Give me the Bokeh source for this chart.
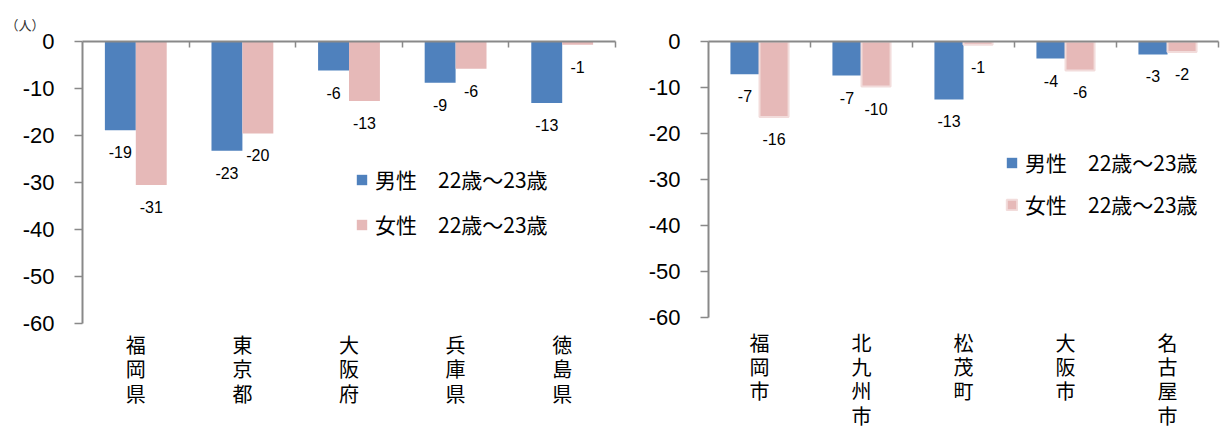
from bokeh.plotting import figure
from bokeh.layouts import row
from bokeh.models import Range1d, FixedTicker, Legend, LegendItem
from bokeh.embed import file_html
from bokeh.resources import INLINE
from bokeh.core.properties import value

# ---- data ----
left_categories = ["福岡県", "東京都", "大阪府", "兵庫県", "徳島県"]
left_male = [-18.9, -23.3, -6.2, -8.8, -13.1]
left_female = [-30.6, -19.6, -12.7, -5.8, -0.7]

right_categories = ["福岡市", "北九州市", "松茂町", "大阪市", "名古屋市"]
right_male = [-7.1, -7.4, -12.6, -3.7, -2.8]
right_female = [-16.4, -9.8, -0.7, -6.3, -2.3]

y_ticks = [0, -10, -20, -30, -40, -50, -60]
series_names = ["男性\u300022歳～23歳", "女性\u300022歳～23歳"]
unit_text = "（人）"

BLUE = "#4F81BD"
PINK = "#E6B9B8"
PINK_EDGE = "#F2DCDB"
GRAY = "#898989"
NUM_FONT = "Liberation Sans"
CJK_FONT = "Noto Sans CJK JP"
H = 426


def make_chart(categories, male, female, width, bl, br, bt, axis_px, bar_w,
               pink_edge, legend_xy, legend_spacing, cat_offset, unit=None):
    n = len(categories)
    centers = [i + 0.5 for i in range(n)]
    xm = [c - bar_w / 2 for c in centers]
    xf = [c + bar_w / 2 for c in centers]

    y_top = max(y_ticks)
    y_bot = min(y_ticks)
    frame_h = H - bt
    # the frame extends below the value axis so the stacked category names fit inside it
    y_lo = y_top - (y_top - y_bot) * frame_h / axis_px

    p = figure(width=width, height=H, x_range=Range1d(0, n), y_range=Range1d(y_lo, y_top),
               output_backend="svg", toolbar_location=None, x_axis_location="above",
               min_border_left=bl, min_border_right=br, min_border_top=bt, min_border_bottom=0)
    p.grid.visible = False
    p.outline_line_color = None

    rm = p.vbar(x=xm, top=0, bottom=male, width=bar_w, fill_color=BLUE, line_color=None)
    if pink_edge:
        rf = p.vbar(x=xf, top=0, bottom=female, width=bar_w, fill_color=PINK,
                    line_color=PINK_EDGE, line_width=2)
    else:
        rf = p.vbar(x=xf, top=0, bottom=female, width=bar_w, fill_color=PINK, line_color=None)

    p.text(x=xm, y=male, text=[str(int(round(v))) for v in male], text_align="center",
           text_baseline="middle", y_offset=22, text_font=value(NUM_FONT),
           text_font_size="16px", text_color="black")
    p.text(x=xf, y=female, text=[str(int(round(v))) for v in female], text_align="center",
           text_baseline="middle", y_offset=22, text_font=value(NUM_FONT),
           text_font_size="16px", text_color="black")

    # stacked (vertical) category names under the value axis
    p.text(x=centers, y=[y_bot] * n, text=["\n".join(list(c)) for c in categories],
           text_align="center", text_baseline="top", y_offset=cat_offset,
           text_font=value(CJK_FONT), text_font_size="20px", text_color="black",
           text_line_height=0.84)

    # y axis
    ya = p.yaxis[0]
    ya.ticker = FixedTicker(ticks=y_ticks)
    ya.bounds = (y_bot, y_top)
    ya.major_label_overrides = {t: str(t) for t in y_ticks}
    ya.major_tick_out = 8
    ya.major_tick_in = 0
    ya.minor_tick_line_color = None
    ya.axis_line_color = GRAY
    ya.axis_line_width = 2
    ya.major_tick_line_color = GRAY
    ya.major_tick_line_width = 1.5
    ya.major_label_text_font = NUM_FONT
    ya.major_label_text_font_size = "22px"
    ya.major_label_text_color = "black"
    ya.major_label_standoff = 20

    # zero line with category separators
    sep = list(range(1, n + 1))
    za = p.xaxis[0]
    za.ticker = FixedTicker(ticks=sep)
    za.major_label_overrides = {t: "" for t in sep}
    za.major_tick_in = 6
    za.major_tick_out = 0
    za.minor_tick_line_color = None
    za.axis_line_color = GRAY
    za.axis_line_width = 2
    za.major_tick_line_color = GRAY
    za.major_tick_line_width = 1.5
    za.major_label_text_font_size = "10px"
    za.major_label_standoff = 0

    legend = Legend(items=[LegendItem(label=series_names[0], renderers=[rm]),
                           LegendItem(label=series_names[1], renderers=[rf])],
                    location=legend_xy, padding=0, margin=0, spacing=legend_spacing,
                    glyph_width=13, glyph_height=13, label_height=22, label_standoff=7,
                    label_text_font=CJK_FONT, label_text_font_size="21px",
                    label_text_color="black", border_line_color=None,
                    background_fill_alpha=0)
    p.add_layout(legend, "center")

    if unit:
        p.title.text = unit
        p.title.align = "left"
        p.title.offset = -(bl - 5)
        p.title.text_font = CJK_FONT
        p.title.text_font_size = "13px"
        p.title.text_font_style = "normal"
        p.title.text_color = "#333333"
        p.title.standoff = 16
    return p


p1 = make_chart(left_categories, left_male, left_female, 618, 82, 3, 39, 283, 0.29,
                False, (273, 187), 15, 7, unit=unit_text)
p2 = make_chart(right_categories, right_male, right_female, 603, 90, 3, 41, 276, 0.285,
                True, (297, 207), 12, 10)

layout = row(p1, p2)
open("out.html", "w").write(file_html(layout, INLINE))
